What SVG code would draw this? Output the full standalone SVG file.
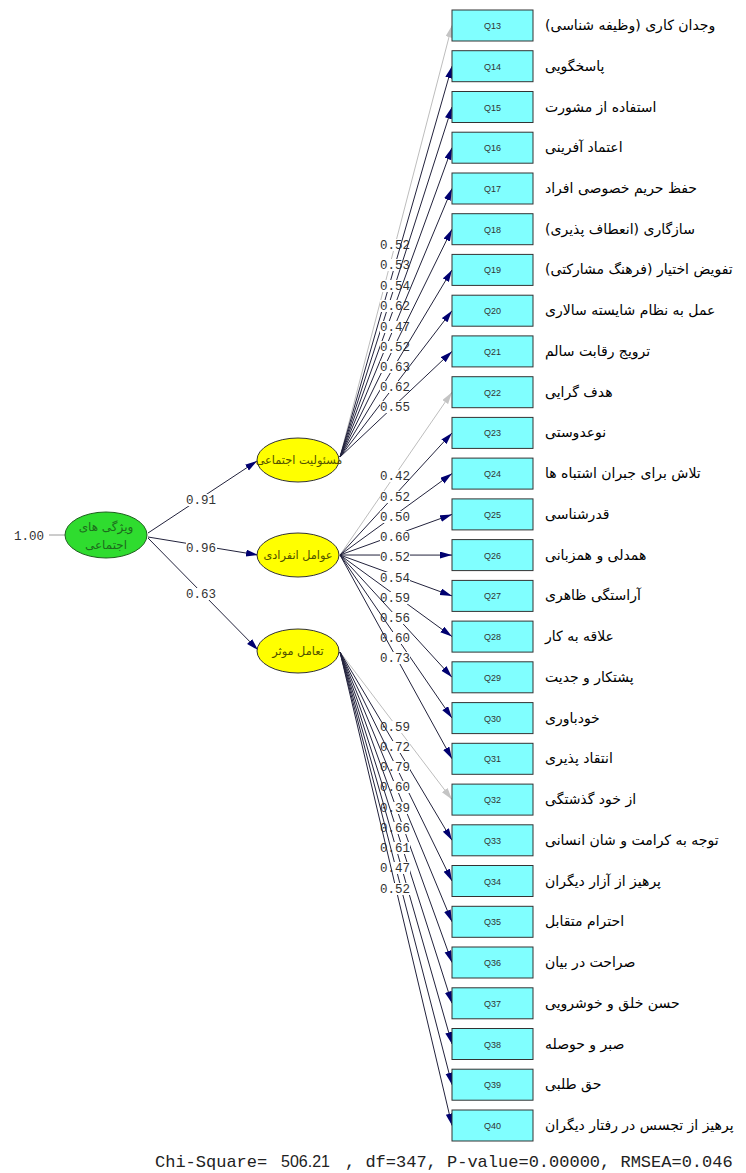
<svg xmlns="http://www.w3.org/2000/svg" width="746" height="1173" viewBox="0 0 746 1173">
<style>
.box{fill:#80ffff;stroke:#333;stroke-width:1}
.qid{font-family:"Liberation Sans",Arial,sans-serif;font-size:9px;fill:#333;text-anchor:middle}
.fa{font-family:"DejaVu Sans",sans-serif;font-size:14px;fill:#000;direction:rtl;text-anchor:end;unicode-bidi:embed}
.ln{stroke:#22223c;stroke-width:1;fill:none;marker-end:url(#ah)}
.lg{stroke:#bdbdbd;stroke-width:1;fill:none;marker-end:url(#ahg)}
.lb{fill:#fff}
.num{font-family:"Liberation Mono","Courier New",monospace;font-size:12.5px;fill:#333;text-anchor:middle}
.ye{fill:#ffff00;stroke:#333;stroke-width:1}
.gr{fill:#2fdc2f;stroke:#1f5f1f;stroke-width:1}
.et{font-family:"DejaVu Sans",sans-serif;font-size:11.3px;fill:#505000;text-anchor:middle;direction:rtl;unicode-bidi:embed}
.gt{font-family:"DejaVu Sans",sans-serif;font-size:12px;fill:#1d6b1d;text-anchor:middle;direction:rtl;unicode-bidi:embed}
.ft{font-family:"Liberation Mono","Courier New",monospace;font-size:17px;fill:#222}
</style>
<defs>
<marker id="ah" markerUnits="userSpaceOnUse" markerWidth="12" markerHeight="8" refX="12" refY="3.5" orient="auto"><path d="M0,0 L12,3.5 L0,7 z" fill="#000070"/></marker>
<marker id="ahg" markerUnits="userSpaceOnUse" markerWidth="12" markerHeight="8" refX="12" refY="3.5" orient="auto"><path d="M0,0 L12,3.5 L0,7 z" fill="#c4c4c4"/></marker>
</defs>
<rect width="746" height="1173" fill="#fff"/>
<g id="connectors">
<line x1="49" y1="535" x2="65" y2="535" stroke="#9a9a9a"/>
<text class="num" x="29" y="540">1.00</text>
<line class="ln" x1="148" y1="533" x2="257" y2="461"/>
<rect class="lb" x="186" y="494" width="31" height="12"/><text class="num" x="201" y="504">0.91</text>
<line class="ln" x1="148" y1="537" x2="258" y2="555"/>
<rect class="lb" x="186" y="542" width="31" height="12"/><text class="num" x="201" y="552">0.96</text>
<line class="ln" x1="148" y1="538" x2="258" y2="650"/>
<rect class="lb" x="186" y="588" width="31" height="12"/><text class="num" x="201" y="598">0.63</text>

<line class="lg" x1="340" y1="457" x2="452" y2="25.5"/><rect class="lb" x="380" y="239" width="30" height="12"/><text class="num" x="395" y="249">0.52</text>
<line class="ln" x1="340" y1="457" x2="452" y2="66.2"/><rect class="lb" x="380" y="259" width="30" height="12"/><text class="num" x="395" y="269">0.53</text>
<line class="ln" x1="340" y1="457" x2="452" y2="107"/><rect class="lb" x="380" y="280" width="30" height="12"/><text class="num" x="395" y="290">0.54</text>
<line class="ln" x1="340" y1="457" x2="452" y2="147.7"/><rect class="lb" x="380" y="300" width="30" height="12"/><text class="num" x="395" y="310">0.62</text>
<line class="ln" x1="340" y1="457" x2="452" y2="188.5"/><rect class="lb" x="380" y="321" width="30" height="12"/><text class="num" x="395" y="331">0.47</text>
<line class="ln" x1="340" y1="457" x2="452" y2="229.2"/><rect class="lb" x="380" y="341" width="30" height="12"/><text class="num" x="395" y="351">0.52</text>
<line class="ln" x1="340" y1="457" x2="452" y2="269.9"/><rect class="lb" x="380" y="361" width="30" height="12"/><text class="num" x="395" y="371">0.63</text>
<line class="ln" x1="340" y1="457" x2="452" y2="310.7"/><rect class="lb" x="380" y="381" width="30" height="12"/><text class="num" x="395" y="391">0.62</text>
<line class="ln" x1="340" y1="457" x2="452" y2="351.4"/><rect class="lb" x="380" y="401" width="30" height="12"/><text class="num" x="395" y="411">0.55</text>

<line class="lg" x1="340" y1="555" x2="452" y2="392.2"/><rect class="lb" x="380" y="470" width="30" height="12"/><text class="num" x="395" y="480">0.42</text>
<line class="ln" x1="340" y1="555" x2="452" y2="432.9"/><rect class="lb" x="380" y="491" width="30" height="12"/><text class="num" x="395" y="501">0.52</text>
<line class="ln" x1="340" y1="555" x2="452" y2="473.6"/><rect class="lb" x="380" y="511" width="30" height="12"/><text class="num" x="395" y="521">0.50</text>
<line class="ln" x1="340" y1="555" x2="452" y2="514.4"/><rect class="lb" x="380" y="531" width="30" height="12"/><text class="num" x="395" y="541">0.60</text>
<line class="ln" x1="340" y1="555" x2="452" y2="555.1"/><rect class="lb" x="380" y="551" width="30" height="12"/><text class="num" x="395" y="561">0.52</text>
<line class="ln" x1="340" y1="555" x2="452" y2="595.9"/><rect class="lb" x="380" y="572" width="30" height="12"/><text class="num" x="395" y="582">0.54</text>
<line class="ln" x1="340" y1="555" x2="452" y2="636.6"/><rect class="lb" x="380" y="592" width="30" height="12"/><text class="num" x="395" y="602">0.59</text>
<line class="ln" x1="340" y1="555" x2="452" y2="677.3"/><rect class="lb" x="380" y="612" width="30" height="12"/><text class="num" x="395" y="622">0.56</text>
<line class="ln" x1="340" y1="555" x2="452" y2="718.1"/><rect class="lb" x="380" y="632" width="30" height="12"/><text class="num" x="395" y="642">0.60</text>
<line class="ln" x1="340" y1="555" x2="452" y2="758.8"/><rect class="lb" x="380" y="652" width="30" height="12"/><text class="num" x="395" y="662">0.73</text>

<line class="lg" x1="340" y1="652" x2="452" y2="799.6"/><rect class="lb" x="380" y="721" width="30" height="12"/><text class="num" x="395" y="731">0.59</text>
<line class="ln" x1="340" y1="652" x2="452" y2="840.3"/><rect class="lb" x="380" y="741" width="30" height="12"/><text class="num" x="395" y="751">0.72</text>
<line class="ln" x1="340" y1="652" x2="452" y2="881"/><rect class="lb" x="380" y="761" width="30" height="12"/><text class="num" x="395" y="771">0.79</text>
<line class="ln" x1="340" y1="652" x2="452" y2="921.8"/><rect class="lb" x="380" y="781" width="30" height="12"/><text class="num" x="395" y="791">0.60</text>
<line class="ln" x1="340" y1="652" x2="452" y2="962.5"/><rect class="lb" x="380" y="802" width="30" height="12"/><text class="num" x="395" y="812">0.39</text>
<line class="ln" x1="340" y1="652" x2="452" y2="1003.3"/><rect class="lb" x="380" y="822" width="30" height="12"/><text class="num" x="395" y="832">0.66</text>
<line class="ln" x1="340" y1="652" x2="452" y2="1044"/><rect class="lb" x="380" y="842" width="30" height="12"/><text class="num" x="395" y="852">0.61</text>
<line class="ln" x1="340" y1="652" x2="452" y2="1084.7"/><rect class="lb" x="380" y="862" width="30" height="12"/><text class="num" x="395" y="872">0.47</text>
<line class="ln" x1="340" y1="652" x2="452" y2="1125.5"/><rect class="lb" x="380" y="883" width="30" height="12"/><text class="num" x="395" y="893">0.52</text>
</g>

<g id="social">
<ellipse class="gr" cx="106" cy="535" rx="41" ry="23"/>
<text class="gt" x="106" y="531">ویژگی های</text>
<text class="gt" x="106" y="549">اجتماعی</text>
</g>
<g id="responsibility"><ellipse class="ye" cx="298" cy="460" rx="41" ry="22"/><text class="et" x="299" y="464">مسئولیت اجتماعی</text></g>
<g id="individual"><ellipse class="ye" cx="298" cy="555" rx="41" ry="22"/><text class="et" x="298" y="559">عوامل انفرادی</text></g>
<g id="interaction"><ellipse class="ye" cx="298" cy="651" rx="41" ry="22"/><text class="et" x="298" y="655">تعامل موثر</text></g>

<g id="q13" transform="translate(452,10)"><rect class="box" width="81" height="31"/><text class="qid" x="40.5" y="19">Q13</text><text class="fa" x="93" y="20">وجدان کاری (وظیفه شناسی)</text></g>
<g id="q14" transform="translate(452,50.7)"><rect class="box" width="81" height="31"/><text class="qid" x="40.5" y="19">Q14</text><text class="fa" x="93" y="20">پاسخگویی</text></g>
<g id="q15" transform="translate(452,91.5)"><rect class="box" width="81" height="31"/><text class="qid" x="40.5" y="19">Q15</text><text class="fa" x="93" y="20">استفاده از مشورت</text></g>
<g id="q16" transform="translate(452,132.2)"><rect class="box" width="81" height="31"/><text class="qid" x="40.5" y="19">Q16</text><text class="fa" x="93" y="20">اعتماد آفرینی</text></g>
<g id="q17" transform="translate(452,173)"><rect class="box" width="81" height="31"/><text class="qid" x="40.5" y="19">Q17</text><text class="fa" x="93" y="20">حفظ حریم خصوصی افراد</text></g>
<g id="q18" transform="translate(452,213.7)"><rect class="box" width="81" height="31"/><text class="qid" x="40.5" y="19">Q18</text><text class="fa" x="93" y="20">سازگاری (انعطاف پذیری)</text></g>
<g id="q19" transform="translate(452,254.4)"><rect class="box" width="81" height="31"/><text class="qid" x="40.5" y="19">Q19</text><text class="fa" x="93" y="20">تفویض اختیار (فرهنگ مشارکتی)</text></g>
<g id="q20" transform="translate(452,295.2)"><rect class="box" width="81" height="31"/><text class="qid" x="40.5" y="19">Q20</text><text class="fa" x="93" y="20">عمل به نظام شایسته سالاری</text></g>
<g id="q21" transform="translate(452,335.9)"><rect class="box" width="81" height="31"/><text class="qid" x="40.5" y="19">Q21</text><text class="fa" x="93" y="20">ترویج رقابت سالم</text></g>
<g id="q22" transform="translate(452,376.7)"><rect class="box" width="81" height="31"/><text class="qid" x="40.5" y="19">Q22</text><text class="fa" x="93" y="20">هدف گرایی</text></g>
<g id="q23" transform="translate(452,417.4)"><rect class="box" width="81" height="31"/><text class="qid" x="40.5" y="19">Q23</text><text class="fa" x="93" y="20">نوعدوستی</text></g>
<g id="q24" transform="translate(452,458.1)"><rect class="box" width="81" height="31"/><text class="qid" x="40.5" y="19">Q24</text><text class="fa" x="93" y="20">تلاش برای جبران اشتباه ها</text></g>
<g id="q25" transform="translate(452,498.9)"><rect class="box" width="81" height="31"/><text class="qid" x="40.5" y="19">Q25</text><text class="fa" x="93" y="20">قدرشناسی</text></g>
<g id="q26" transform="translate(452,539.6)"><rect class="box" width="81" height="31"/><text class="qid" x="40.5" y="19">Q26</text><text class="fa" x="93" y="20">همدلی و همزبانی</text></g>
<g id="q27" transform="translate(452,580.4)"><rect class="box" width="81" height="31"/><text class="qid" x="40.5" y="19">Q27</text><text class="fa" x="93" y="20">آراستگی ظاهری</text></g>
<g id="q28" transform="translate(452,621.1)"><rect class="box" width="81" height="31"/><text class="qid" x="40.5" y="19">Q28</text><text class="fa" x="93" y="20">علاقه به کار</text></g>
<g id="q29" transform="translate(452,661.8)"><rect class="box" width="81" height="31"/><text class="qid" x="40.5" y="19">Q29</text><text class="fa" x="93" y="20">پشتکار و جدیت</text></g>
<g id="q30" transform="translate(452,702.6)"><rect class="box" width="81" height="31"/><text class="qid" x="40.5" y="19">Q30</text><text class="fa" x="93" y="20">خودباوری</text></g>
<g id="q31" transform="translate(452,743.3)"><rect class="box" width="81" height="31"/><text class="qid" x="40.5" y="19">Q31</text><text class="fa" x="93" y="20">انتقاد پذیری</text></g>
<g id="q32" transform="translate(452,784.1)"><rect class="box" width="81" height="31"/><text class="qid" x="40.5" y="19">Q32</text><text class="fa" x="93" y="20">از خود گذشتگی</text></g>
<g id="q33" transform="translate(452,824.8)"><rect class="box" width="81" height="31"/><text class="qid" x="40.5" y="19">Q33</text><text class="fa" x="93" y="20">توجه به کرامت و شان انسانی</text></g>
<g id="q34" transform="translate(452,865.5)"><rect class="box" width="81" height="31"/><text class="qid" x="40.5" y="19">Q34</text><text class="fa" x="93" y="20">پرهیز از آزار دیگران</text></g>
<g id="q35" transform="translate(452,906.3)"><rect class="box" width="81" height="31"/><text class="qid" x="40.5" y="19">Q35</text><text class="fa" x="93" y="20">احترام متقابل</text></g>
<g id="q36" transform="translate(452,947)"><rect class="box" width="81" height="31"/><text class="qid" x="40.5" y="19">Q36</text><text class="fa" x="93" y="20">صراحت در بیان</text></g>
<g id="q37" transform="translate(452,987.8)"><rect class="box" width="81" height="31"/><text class="qid" x="40.5" y="19">Q37</text><text class="fa" x="93" y="20">حسن خلق و خوشرویی</text></g>
<g id="q38" transform="translate(452,1028.5)"><rect class="box" width="81" height="31"/><text class="qid" x="40.5" y="19">Q38</text><text class="fa" x="93" y="20">صبر و حوصله</text></g>
<g id="q39" transform="translate(452,1069.2)"><rect class="box" width="81" height="31"/><text class="qid" x="40.5" y="19">Q39</text><text class="fa" x="93" y="20">حق طلبی</text></g>
<g id="q40" transform="translate(452,1110)"><rect class="box" width="81" height="31"/><text class="qid" x="40.5" y="19">Q40</text><text class="fa" x="93" y="20">پرهیز از تجسس در رفتار دیگران</text></g>

<g id="fit">
<text class="ft" x="155" y="1167">Chi-Square=</text>
<text x="281" y="1167" font-family="Liberation Sans, Arial, sans-serif" font-size="16px" fill="#222">506.21</text>
<text class="ft" x="345" y="1167">, df=347, P-value=0.00000, RMSEA=0.046</text>
</g>
</svg>
